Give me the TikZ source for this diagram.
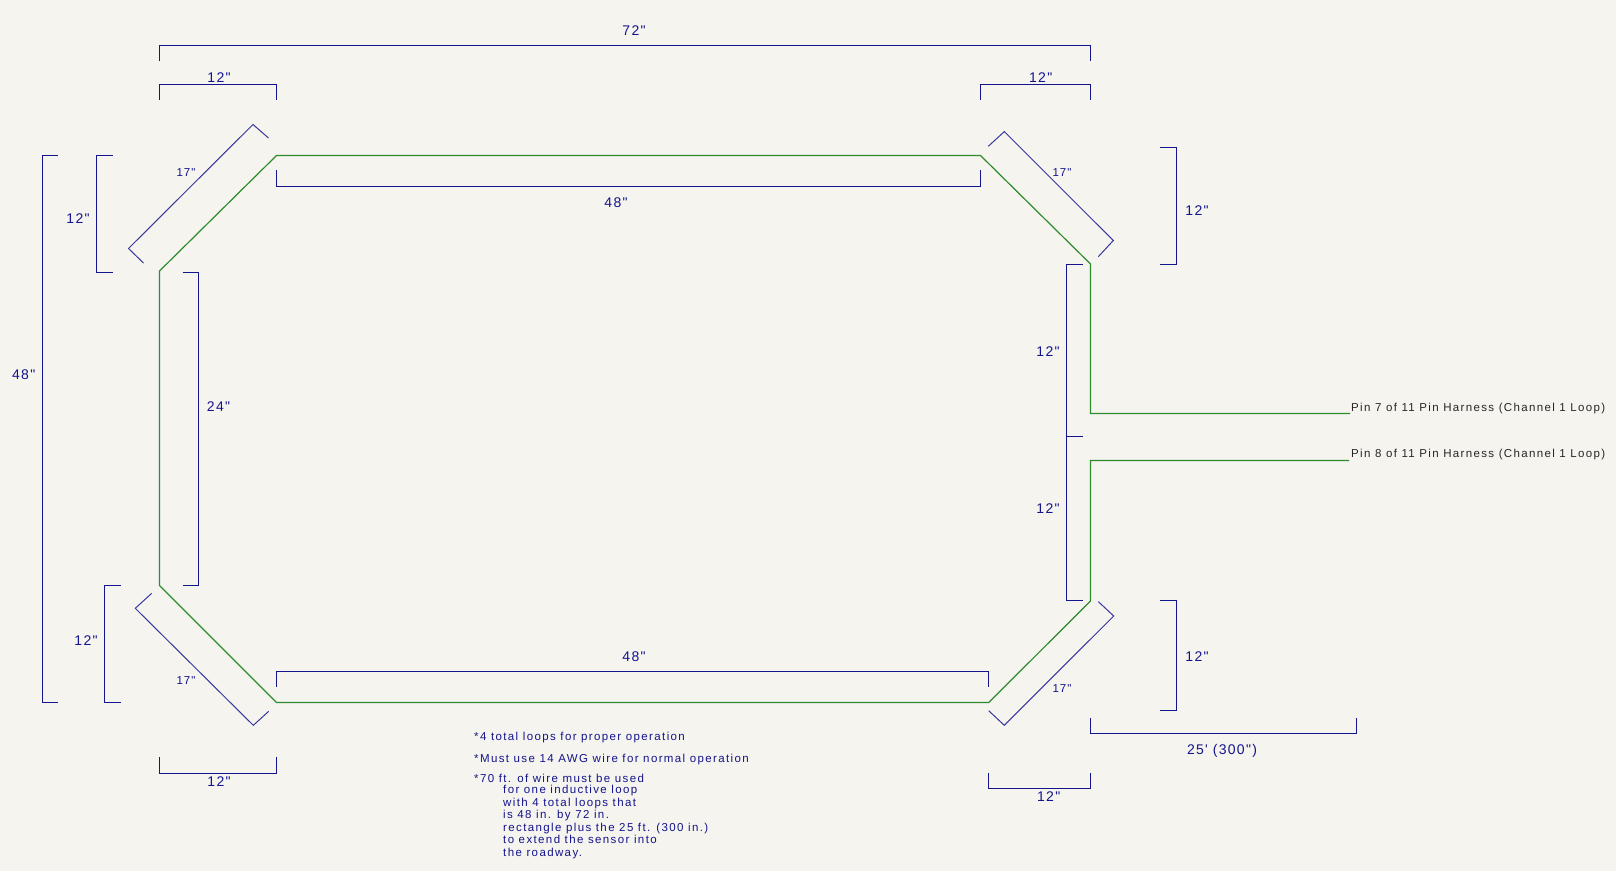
\documentclass[tikz,border=0pt]{standalone}
\usepackage{fontspec}
\newfontfamily\cad{Liberation Sans}[LetterSpace=9]
\newfontfamily\cadnote{Liberation Sans}[LetterSpace=12]
\newfontfamily\cadpin{Liberation Sans}[LetterSpace=11.8]
\definecolor{bgc}{HTML}{F5F4EF}
\definecolor{dimc}{HTML}{14148C}
\definecolor{wirec}{HTML}{2E8B2E}
\tikzset{
  dimline/.style={draw=dimc,line width=1.2pt,line join=miter},
  diagline/.style={draw=dimc!85!white,line width=1pt},
  wire/.style={draw=wirec,line width=1.2pt},
  big/.style={text=dimc,font=\cad\fontsize{14}{14}\selectfont,inner sep=0pt},
  small/.style={text=dimc,font=\cad\fontsize{11.5}{11.5}\selectfont,inner sep=0pt},
  note/.style={text=dimc,font=\cadnote\fontsize{11.5}{12.6}\selectfont,inner sep=0pt,anchor=west,align=left},
  pin/.style={text=black!85,font=\cadpin\fontsize{11.5}{11.5}\selectfont,inner sep=0pt,anchor=west}
}
\begin{document}
\begin{tikzpicture}[x=1pt,y=-1pt]
\path[fill=bgc] (0,0) rectangle (1616,871);
\useasboundingbox (0,0) rectangle (1616,871);
% wires
\draw[wire] (1350,413.5) -- (1090.5,413.5) -- (1090.5,264) -- (980.5,155.5) -- (276.5,155.5) -- (159.5,271) -- (159.5,585.5) -- (276.5,702.5) -- (988.7,702.5) -- (1090.5,601) -- (1090.5,460.5) -- (1349,460.5);
% horizontal brackets
\draw[dimline] (159.5,61) -- (159.5,45.5) -- (1090.5,45.5) -- (1090.5,61);
\draw[dimline] (159.5,100) -- (159.5,84.5) -- (276.5,84.5) -- (276.5,100);
\draw[dimline] (980.5,100) -- (980.5,84.5) -- (1090.5,84.5) -- (1090.5,100);
\draw[dimline] (276.5,170) -- (276.5,186.5) -- (980.5,186.5) -- (980.5,170);
\draw[dimline] (276.5,687) -- (276.5,671.5) -- (988.5,671.5) -- (988.5,687);
\draw[dimline] (159.5,757) -- (159.5,773.5) -- (276.5,773.5) -- (276.5,757);
\draw[dimline] (988.5,773) -- (988.5,788.5) -- (1090.5,788.5) -- (1090.5,773);
\draw[dimline] (1090.5,718) -- (1090.5,733.5) -- (1356.5,733.5) -- (1356.5,718);
% vertical brackets
\draw[dimline] (58,155.5) -- (42.5,155.5) -- (42.5,702.5) -- (58,702.5);
\draw[dimline] (113,155.5) -- (96.5,155.5) -- (96.5,272.5) -- (113,272.5);
\draw[dimline] (182.5,272.5) -- (198.5,272.5) -- (198.5,585.5) -- (182.5,585.5);
\draw[dimline] (120.7,585.5) -- (104.5,585.5) -- (104.5,702.5) -- (120.7,702.5);
\draw[dimline] (1160,147.5) -- (1176.5,147.5) -- (1176.5,264.5) -- (1160,264.5);
\draw[dimline] (1160,600.5) -- (1176.5,600.5) -- (1176.5,710.5) -- (1160,710.5);
\draw[dimline] (1082.7,264.5) -- (1066.5,264.5) -- (1066.5,600.5) -- (1082.7,600.5);
\draw[dimline] (1066.5,436.5) -- (1082.7,436.5);
% diagonal brackets
\draw[diagline] (143.5,263) -- (128.5,248.5) -- (253,124.5) -- (268.5,138);
\draw[diagline] (988.3,146.3) -- (1004.3,131.6) -- (1113.3,240.5) -- (1098.3,256.7);
\draw[diagline] (151.7,593.3) -- (135.3,608.3) -- (253.3,725.3) -- (268.7,711.3);
\draw[diagline] (1098.3,601.6) -- (1113.7,616) -- (1004.3,725.3) -- (988.7,710.7);
% dimension labels
\node[big] (t72) at (634,31) {72"};
\node[big] (t12a) at (219,77.5) {12"};
\node[big] (t12b) at (1040.7,77.5) {12"};
\node[big] (t12c) at (78,219) {12"};
\node[big] (t48a) at (616,203) {48"};
\node[big] (t24) at (218.5,406.5) {24"};
\node[big] (t48b) at (23.7,375) {48"};
\node[big] (t12d) at (1197,210.5) {12"};
\node[big] (t12e) at (1048,352) {12"};
\node[big] (t12f) at (1048,508.5) {12"};
\node[big] (t48c) at (634,656.5) {48"};
\node[big] (t12g) at (86,640.7) {12"};
\node[big] (t12h) at (219,782) {12"};
\node[big] (t12i) at (1197,657) {12"};
\node[big] (t25) at (1222,751) {25' (300")};
\node[big] (t12j) at (1048.7,797) {12"};
\node[small] (t17a) at (186,173) {17"};
\node[small] (t17b) at (1062,173) {17"};
\node[small] (t17c) at (186,680.5) {17"};
\node[small] (t17d) at (1062,688.5) {17"};
% pin labels
\node[pin] (p7) at (1351,408.5) {Pin 7 of 11 Pin Harness (Channel 1 Loop)};
\node[pin] (p8) at (1351,455) {Pin 8 of 11 Pin Harness (Channel 1 Loop)};
% notes
\node[note] (n1) at (474,737.5) {*4 total loops for proper operation};
\node[note] (n2) at (474,760) {*Must use 14 AWG wire for normal operation};
\node[note] (n3) at (474,778.5) {*70 ft. of wire must be used};
\node[note,anchor=north west] (n4) at (503,785) {for one inductive loop\\with 4 total loops that\\is 48 in. by 72 in.\\rectangle plus the 25 ft. (300 in.)\\to extend the sensor into\\the roadway.};
\end{tikzpicture}
\end{document}
